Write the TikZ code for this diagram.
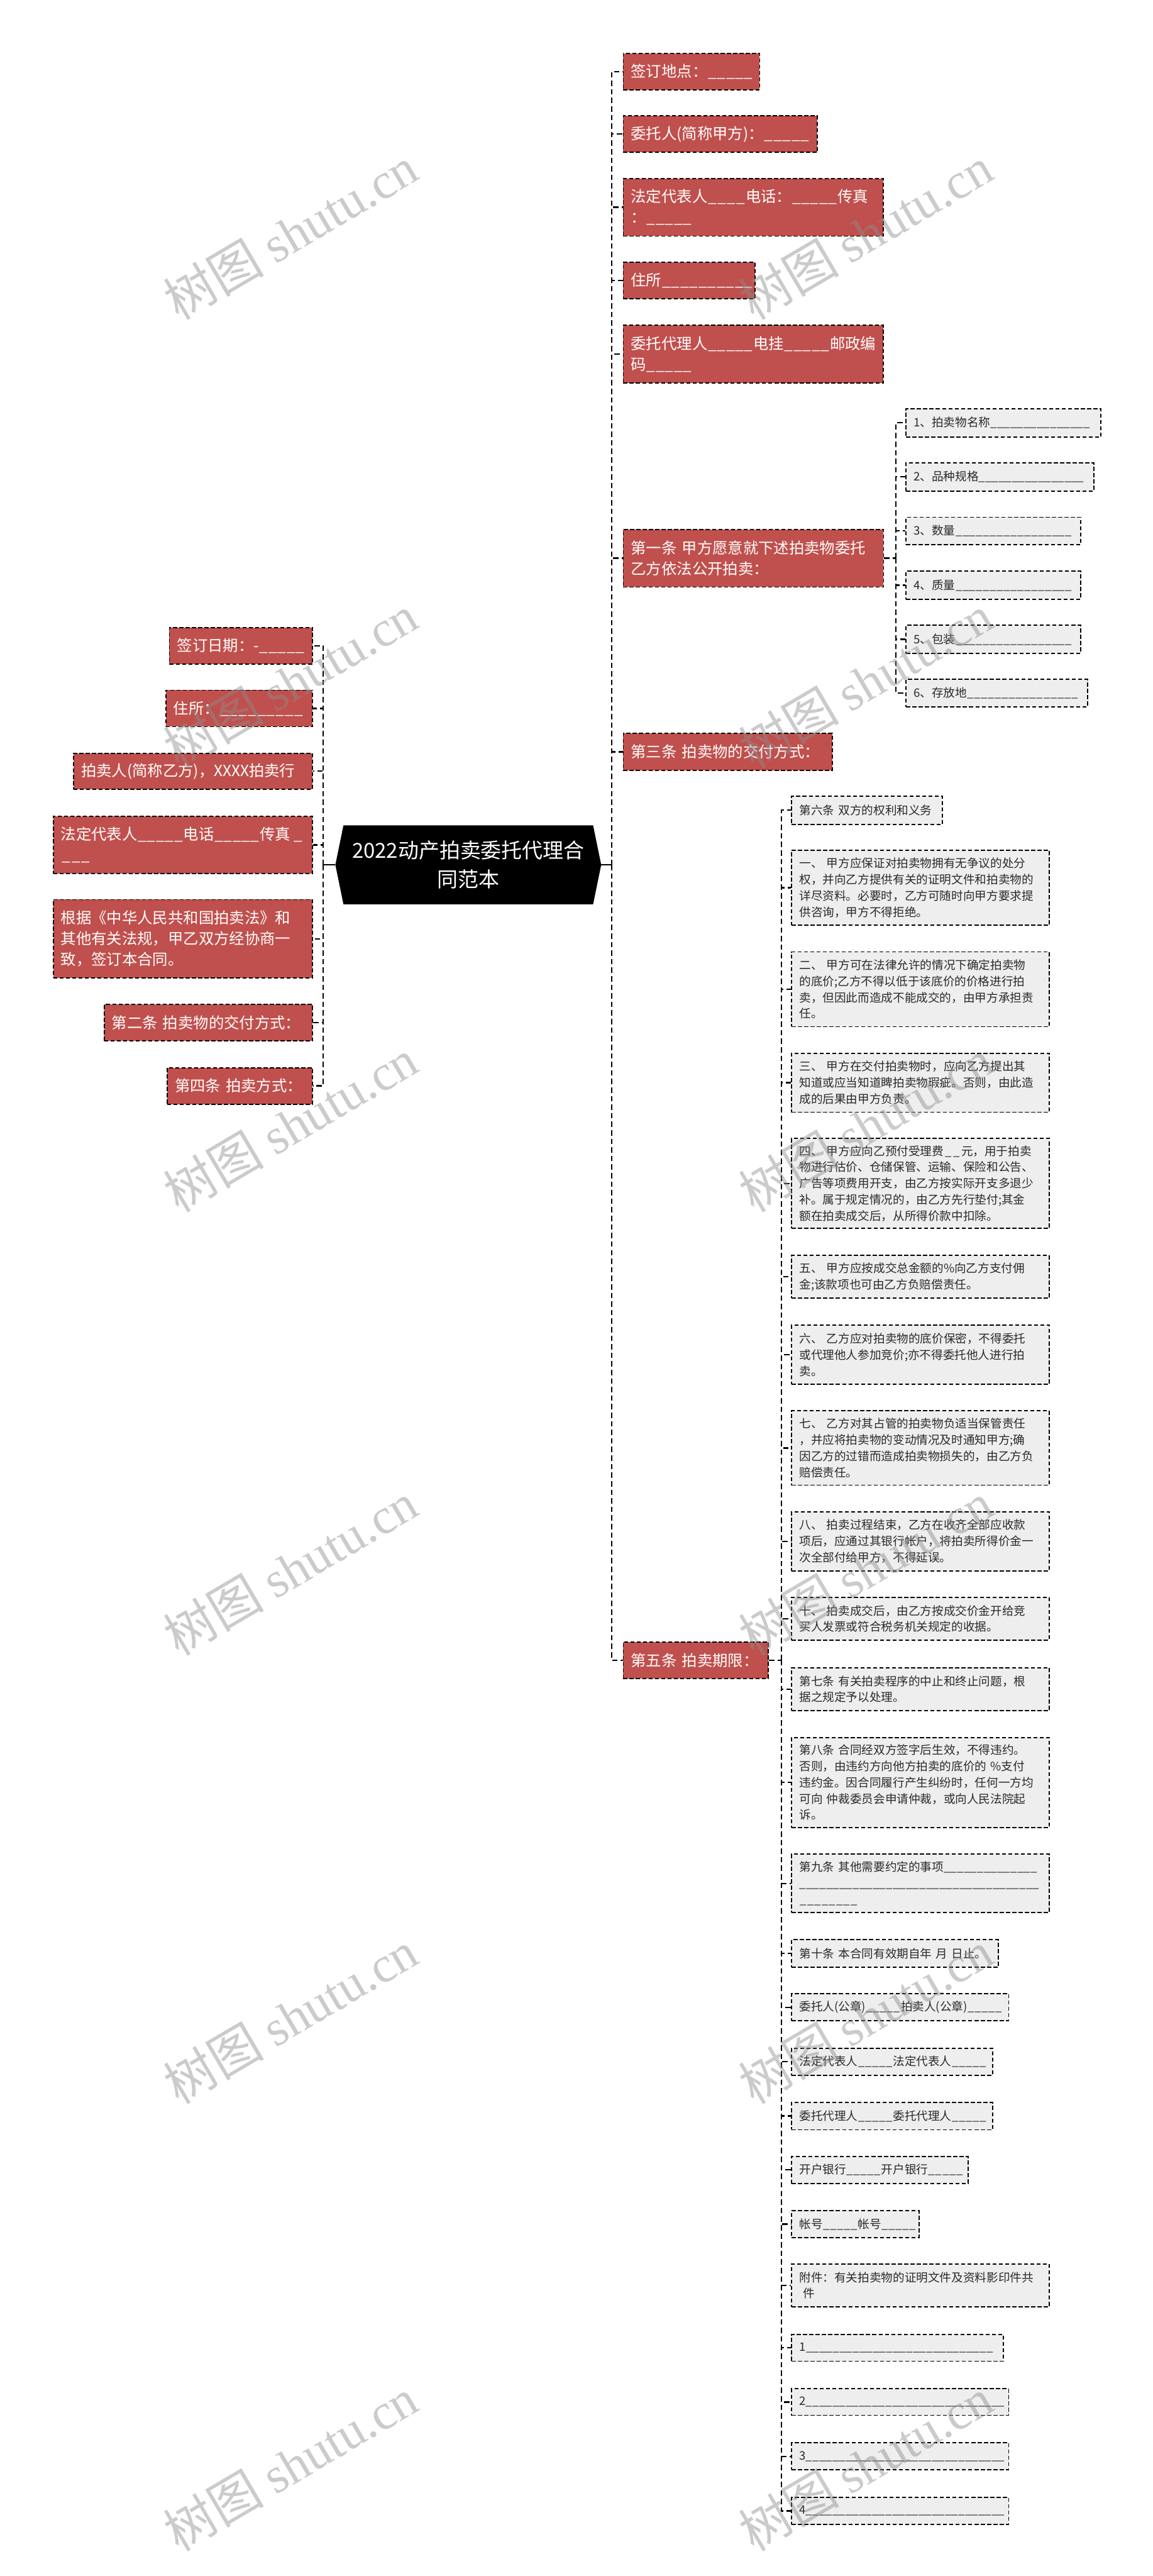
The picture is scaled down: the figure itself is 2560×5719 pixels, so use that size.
\documentclass[tikz,border=0pt]{standalone}
\usepackage{fontspec}
\setmainfont{Noto Sans CJK SC}
\newfontfamily\wmlatin{Liberation Serif}
\usetikzlibrary{backgrounds}
\definecolor{boxred}{HTML}{C0504D}
\definecolor{boxgrey}{HTML}{EEEEEE}
\definecolor{textdark}{HTML}{2A2A2A}
\newcommand\myblank[1]{\leavevmode\hbox to \dimexpr 0.5em*#1\relax{\xleaders\hbox{\textunderscore}\hfill}}
\newcommand\placebox[7]{%
  \pgfmathsetmacro\bxw{#5-#3}%
  \pgfmathsetmacro\bxh{#6-#4}%
  \pgfmathsetmacro\bxt{#5-#3-34}%
  \node[#2, minimum width=\bxw pt, minimum height=\bxh pt, text width=\bxt pt] (#1) at (#3,#4) {#7};}
\tikzset{
  basebox/.style={anchor=north west, draw=black, line width=2.5pt, dash pattern=on 9pt off 5pt,
    inner xsep=17pt, inner ysep=0pt, align=left},
  redbox/.style={basebox, fill=boxred, text=white, font=\fontsize{34}{46}\selectfont},
  greybox/.style={basebox, fill=boxgrey, text=textdark, font=\fontsize{26}{36}\selectfont},
  conn/.style={draw=black, line width=3.2pt, dash pattern=on 12pt off 7pt},
  rootlink/.style={draw=black, line width=3.2pt},
  wm/.style={rotate=30.5, text=black!45, text opacity=0.45, font=\fontsize{112}{112}\selectfont},
}
\begin{document}
\begin{tikzpicture}[x=1pt,y=-1pt]
\useasboundingbox (0,0) rectangle (2560,5719);

% root
\node[minimum width=590pt, minimum height=175pt, inner sep=0pt, align=center, text=white,
  font=\fontsize{46}{65}\selectfont] (root) at (1040,1920) {2022动产拍卖委托代理合\\同范本};
\begin{scope}[on background layer]
\fill[white] (0,0) rectangle (2560,5719);
\fill[black] ([xshift=18pt]root.north west) -- ([xshift=-18pt]root.north east) -- (root.east)
  -- ([xshift=-18pt]root.south east) -- ([xshift=18pt]root.south west) -- (root.west) -- cycle;
\end{scope}

% right red nodes
\placebox{R1}{redbox}{1383}{117}{1686}{198}{签订地点：\myblank{6}}
\placebox{R2}{redbox}{1383}{256}{1814}{337}{委托人(简称甲方)：\myblank{6}}
\placebox{R3}{redbox}{1383}{395}{1960}{523}{法定代表人\myblank{5}电话：\myblank{6}传真\\：\myblank{6}}
\placebox{R4}{redbox}{1383}{581}{1676}{662}{住所\myblank{12}}
\placebox{R5}{redbox}{1383}{721}{1960}{849}{委托代理人\myblank{6}电挂\myblank{6}邮政编\\码\myblank{6}}
\placebox{R6}{redbox}{1383}{1174}{1961}{1302}{第一条~甲方愿意就下述拍卖物委托\\乙方依法公开拍卖：}
\placebox{R7}{redbox}{1383}{1627}{1847}{1709}{第三条~拍卖物的交付方式：}
\placebox{R8}{redbox}{1383}{3644}{1705}{3725}{第五条~拍卖期限：}

% left red nodes
\placebox{L1}{redbox}{375}{1392}{693}{1473}{\mbox{签订日期：-\myblank{6}}}
\placebox{L2}{redbox}{367}{1531}{693}{1612}{住所：\myblank{11}}
\placebox{L3}{redbox}{162}{1671}{693}{1751}{拍卖人(简称乙方)，XXXX拍卖行}
\placebox{L4}{redbox}{117}{1811}{693}{1938}{法定代表人\myblank{6}电话\myblank{6}传真\myblank{2}\\\myblank{4}}
\placebox{L5}{redbox}{117}{1996}{693}{2170}{根据《中华人民共和国拍卖法》和\\其他有关法规，甲乙双方经协商一\\致，签订本合同。}
\placebox{L6}{redbox}{230}{2229}{693}{2310}{第二条~拍卖物的交付方式：}
\placebox{L7}{redbox}{370}{2369}{693}{2450}{第四条~拍卖方式：}

% items of article 1
\placebox{S1}{greybox}{2011}{906}{2444}{969}{1、拍卖物名称\myblank{17}}
\placebox{S2}{greybox}{2011}{1026}{2428}{1089}{2、品种规格\myblank{18}}
\placebox{S3}{greybox}{2011}{1147}{2399}{1208}{3、数量\myblank{20}}
\placebox{S4}{greybox}{2011}{1267}{2399}{1329}{4、质量\myblank{20}}
\placebox{S5}{greybox}{2011}{1387}{2399}{1449}{5、包装\myblank{20}}
\placebox{S6}{greybox}{2011}{1507}{2414}{1568}{6、存放地\myblank{19}}

% items of article 5
\placebox{G0}{greybox}{1757}{1766}{2092}{1829}{第六条~双方的权利和义务}
\placebox{G1}{greybox}{1757}{1886}{2329}{2053}{一、~甲方应保证对拍卖物拥有无争议的处分\\权，并向乙方提供有关的证明文件和拍卖物的\\详尽资料。必要时，乙方可随时向甲方要求提\\供咨询，甲方不得拒绝。}
\placebox{G2}{greybox}{1757}{2112}{2329}{2278}{二、~甲方可在法律允许的情况下确定拍卖物\\的底价;乙方不得以低于该底价的价格进行拍\\卖，但因此而造成不能成交的，由甲方承担责\\任。}
\placebox{G3}{greybox}{1757}{2337}{2329}{2468}{三、~甲方在交付拍卖物时，应向乙方提出其\\知道或应当知道睥拍卖物瑕疵。否则，由此造\\成的后果由甲方负责。}
\placebox{G4}{greybox}{1757}{2526}{2329}{2726}{四、~甲方应向乙预付受理费\myblank{3}元，用于拍卖\\物进行估价、仓储保管、运输、保险和公告、\\广告等项费用开支，由乙方按实际开支多退少\\补。属于规定情况的，由乙方先行垫付;其金\\额在拍卖成交后，从所得价款中扣除。}
\placebox{G5}{greybox}{1757}{2786}{2329}{2881}{五、~甲方应按成交总金额的\%向乙方支付佣\\金;该款项也可由乙方负赔偿责任。}
\placebox{G6}{greybox}{1757}{2941}{2329}{3072}{六、~乙方应对拍卖物的底价保密，不得委托\\或代理他人参加竞价;亦不得委托他人进行拍\\卖。}
\placebox{G7}{greybox}{1757}{3131}{2329}{3296}{七、~乙方对其占管的拍卖物负适当保管责任\\，并应将拍卖物的变动情况及时通知甲方;确\\因乙方的过错而造成拍卖物损失的，由乙方负\\赔偿责任。}
\placebox{G8}{greybox}{1757}{3355}{2329}{3486}{八、~拍卖过程结束，乙方在收齐全部应收款\\项后，应通过其银行帐户，将拍卖所得价金一\\次全部付给甲方，不得延误。}
\placebox{G9}{greybox}{1757}{3545}{2329}{3640}{十、~拍卖成交后，由乙方按成交价金开给竞\\买人发票或符合税务机关规定的收据。}
\placebox{G10}{greybox}{1757}{3701}{2329}{3797}{第七条~有关拍卖程序的中止和终止问题，根\\据之规定予以处理。}
\placebox{G11}{greybox}{1757}{3856}{2329}{4056}{第八条~合同经双方签字后生效，不得违约。\\否则，由违约方向他方拍卖的底价的~\%支付\\违约金。因合同履行产生纠纷时，任何一方均\\可向~仲裁委员会申请仲裁，或向人民法院起\\诉。}
\placebox{G12}{greybox}{1757}{4115}{2329}{4245}{第九条~其他需要约定的事项\myblank{16}\\\myblank{41}\\\myblank{10}}
\placebox{G13}{greybox}{1757}{4305}{2216}{4366}{第十条~本合同有效期自年~月~日止。}
\placebox{G14}{greybox}{1757}{4425}{2239}{4485}{委托人(公章)\myblank{6}拍卖人(公章)\myblank{6}}
\placebox{G15}{greybox}{1757}{4546}{2203}{4606}{法定代表人\myblank{6}法定代表人\myblank{6}}
\placebox{G16}{greybox}{1757}{4666}{2203}{4727}{委托代理人\myblank{6}委托代理人\myblank{6}}
\placebox{G17}{greybox}{1757}{4786}{2149}{4846}{开户银行\myblank{6}开户银行\myblank{6}}
\placebox{G18}{greybox}{1757}{4907}{2040}{4966}{帐号\myblank{6}帐号\myblank{6}}
\placebox{G19}{greybox}{1757}{5025}{2329}{5120}{附件：有关拍卖物的证明文件及资料影印件共\\~件}
\placebox{G20}{greybox}{1757}{5181}{2227}{5241}{1\myblank{32}}
\placebox{G21}{greybox}{1757}{5302}{2239}{5361}{2\myblank{34}}
\placebox{G22}{greybox}{1757}{5422}{2239}{5482}{3\myblank{34}}
\placebox{G23}{greybox}{1757}{5543}{2239}{5603}{4\myblank{34}}

% connectors
\coordinate (rs) at ([xshift=23pt]root.east);
\coordinate (ls) at ([xshift=-27pt]root.west);
\draw[rootlink] (root.east) -- (rs);
\draw[rootlink] (root.west) -- (ls);
\foreach \n in {R1,R2,R3,R4,R5,R6,R7,R8} \draw[conn] (rs) |- (\n.west);
\foreach \n in {L1,L2,L3,L4,L5,L6,L7} \draw[conn] (ls) |- (\n.east);
\coordinate (s6) at ([xshift=26pt]R6.east);
\draw[conn] (R6.east) -- (s6);
\foreach \n in {S1,S2,S3,S4,S5,S6} \draw[conn] (s6) |- (\n.west);
\coordinate (s8) at ([xshift=28pt]R8.east);
\draw[conn] (R8.east) -- (s8);
\foreach \n in {G0,G1,G2,G3,G4,G5,G6,G7,G8,G9,G10,G11,G12,G13,G14,G15,G16,G17,G18,G19,G20,G21,G22,G23} \draw[conn] (s8) |- (\n.west);

% watermarks
\foreach \wx/\wy [count=\k] in {645/518,1922/518,645/1513,1922/1513,645/2498,1922/2498,645/3483,1922/3483,645/4478,1922/4478,645/5471,1922/5471}
  \node[wm] (wm\k) at (\wx,\wy) {树图~{\wmlatin shutu.cn}};
\end{tikzpicture}
\end{document}
